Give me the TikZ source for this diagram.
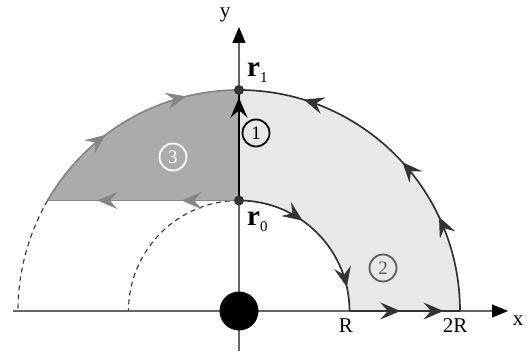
\documentclass[tikz,border=0pt]{standalone}
\usepackage{fontspec}
\setmainfont{Liberation Serif}
\usetikzlibrary{arrows.meta,decorations.markings,calc}
\definecolor{lightg}{HTML}{E8E8E8}
\definecolor{darkg}{HTML}{ABABAB}
\definecolor{edge}{HTML}{333333}
\definecolor{axisg}{HTML}{666666}
\definecolor{pthree}{HTML}{858585}
\begin{document}
\begin{tikzpicture}[x=1pt,y=1pt,
  arrowat/.style={postaction={decorate,decoration={markings,mark=at position #1 with {\arrow[line width=1pt]{Stealth[length=20pt,width=17pt,inset=7.5pt]}}}}},
  axis/.style={draw=axisg,line width=1.4pt,-{Triangle[length=16pt,width=13pt,color=black]}},
  ptwo/.style={draw=edge,line width=1.7pt},
  pthreestyle/.style={draw=pthree,line width=1.7pt},
  pone/.style={draw=black,line width=2.6pt},
  dot/.style={circle,fill=edge,inner sep=0pt,minimum size=10pt},
  lab/.style={font=\fontsize{21}{21}\selectfont,text=black,inner sep=0pt},
  cnum/.style={circle,draw,line width=1.8pt,minimum size=27pt,inner sep=0pt,font=\fontsize{19}{19}\selectfont},
  vlab/.style={anchor=base west,inner sep=0pt,font=\fontsize{29}{29}\selectfont\bfseries}
]
\def\R{110.5}
\useasboundingbox (-239,-40) rectangle (288,311);
\coordinate (O) at (0,0);
\coordinate (r0) at (0,\R);
\coordinate (r1) at (0,2*\R);
\coordinate (Rp) at (\R,0);
\coordinate (Rtwo) at (2*\R,0);
\coordinate (corner) at (150:2*\R);
\fill[lightg] (Rp) arc[start angle=0,end angle=90,radius=\R] -- (r1) arc[start angle=90,end angle=0,radius=2*\R] -- cycle;
\fill[darkg] (r0) -- (corner) arc[start angle=150,end angle=90,radius=2*\R] -- cycle;
\draw[edge,line width=1.1pt,dash pattern=on 5pt off 4pt] (corner) arc[start angle=150,end angle=180,radius=2*\R];
\draw[edge,line width=1.1pt,dash pattern=on 5pt off 4pt] (r0) arc[start angle=90,end angle=180,radius=\R];
\coordinate (xs) at (-226,0);
\coordinate (xe) at (269,0);
\coordinate (ys) at (0,-40);
\coordinate (ye) at (0,284);
\draw[axis] (xs) -- (xe);
\draw[axis] (ys) -- (ye);
\node[circle,fill=black,minimum size=39pt,inner sep=0pt] (src) at (O) {};
\draw[ptwo,arrowat=0.39,arrowat=0.86] (r0) arc[start angle=90,end angle=0,radius=\R];
\draw[ptwo,arrowat=0.46,arrowat=0.85] (Rp) -- (Rtwo);
\draw[ptwo,arrowat=0.28,arrowat=0.47,arrowat=0.81] (Rtwo) arc[start angle=0,end angle=90,radius=2*\R];
\draw[pthreestyle,arrowat=0.30,arrowat=0.74] (r0) -- (corner);
\draw[pthreestyle,arrowat=0.38,arrowat=0.77] (corner) arc[start angle=150,end angle=90,radius=2*\R];
\draw[pone,arrowat=0.93] (r0) -- (r1);
\node[dot] (d0) at (r0) {};
\node[dot] (d1) at (r1) {};
\node[vlab] (lr1) at (8,234) {r\raisebox{-6pt}{\fontsize{15}{15}\selectfont\mdseries 1}};
\node[vlab] (lr0) at (8,86) {r\raisebox{-6pt}{\fontsize{15}{15}\selectfont\mdseries 0}};
\node[cnum,draw=black,text=black] (c1) at (17,178) {1};
\node[cnum,draw=edge!80,text=edge!80] (c2) at (144,43) {2};
\node[cnum,draw=white,text=white] (c3) at (-66,154) {3};
\node[lab] (ly) at (-14,296) {y};
\node[lab] (lx) at (279,-10) {x};
\node[lab] (lR) at (107,-15) {R};
\node[lab] (l2R) at (216,-15) {2R};
\end{tikzpicture}
\end{document}
